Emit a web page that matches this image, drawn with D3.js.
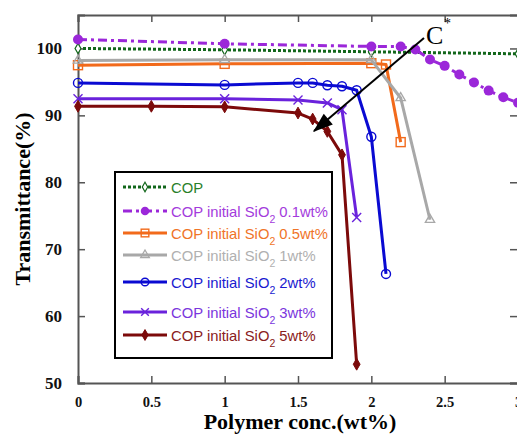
<!DOCTYPE html>
<html><head><meta charset="utf-8">
<script src="https://cdn.jsdelivr.net/npm/d3@7/dist/d3.min.js"></script>
<style>body{margin:0;background:#fff}svg{display:block}</style>
</head><body>
<svg id="c" width="517" height="434"></svg>
<script>
// ---- data ----
const xTicks = [0, 0.5, 1, 1.5, 2, 2.5, 3];
const yTicks = [50, 60, 70, 80, 90, 100];
const seriesNames = ["COP", "COP initial SiO2 0.1wt%", "COP initial SiO2 0.5wt%", "COP initial SiO2 1wt%", "COP initial SiO2 2wt%", "COP initial SiO2 3wt%", "COP initial SiO2 5wt%"];
const copX = [0, 1, 2, 3];
const copY = [100.0, 99.8, 99.5, 99.2];
const s01X = [0, 1, 2, 2.2, 2.3, 2.4, 2.5, 2.6, 2.7, 2.8, 2.9, 3.0];
const s01Y = [101.35, 100.7, 100.3, 100.3, 99.85, 98.35, 97.4, 96.1, 94.9, 93.7, 92.7, 91.9];
const s05X = [0, 1, 2, 2.1, 2.2];
const s05Y = [97.5, 97.7, 97.8, 97.6, 86.0];
const s1X = [0, 1, 2, 2.2, 2.4];
const s1Y = [98.2, 98.3, 98.3, 92.6, 74.4];
const s2X = [0, 1, 1.5, 1.6, 1.7, 1.8, 1.9, 2.0, 2.1];
const s2Y = [94.85, 94.55, 94.85, 94.85, 94.5, 94.35, 93.75, 86.8, 66.3];
const s3X = [0, 1, 1.5, 1.7, 1.8, 1.9];
const s3Y = [92.5, 92.5, 92.3, 91.85, 90.85, 74.75];
const s5X = [0, 0.5, 1, 1.5, 1.6, 1.7, 1.8, 1.9];
const s5Y = [91.35, 91.35, 91.27, 90.35, 89.45, 87.6, 84.1, 52.8];
const annotation = "C";

// ---- layout / style ----
const svg = d3.select("#c");
const L = 78, R = 518, T = 15, B = 383;
const x = d3.scaleLinear().domain([0, 3]).range([L, R]);
const y = d3.scaleLinear().domain([50, 105]).range([B, T]);
const axisCol = "#555";

const styles = [
  {xs: copX, ys: copY, color: "#11661a", text: "#2a7f2a", dash: "3,2", w: 3, marker: "diamondOpen"},
  {xs: s01X, ys: s01Y, color: "#9b27d9", text: "#a33bdc", dash: "9,4,3,4", w: 3, marker: "circleFilled"},
  {xs: s05X, ys: s05Y, color: "#f26a1b", text: "#f07428", dash: null, w: 3, marker: "square"},
  {xs: s1X, ys: s1Y, color: "#a8a8a8", text: "#b0b0b0", dash: null, w: 3, marker: "triangle"},
  {xs: s2X, ys: s2Y, color: "#0a0ad2", text: "#1a1ad0", dash: null, w: 3, marker: "circle"},
  {xs: s3X, ys: s3Y, color: "#6a22dc", text: "#7a36dd", dash: null, w: 3, marker: "cross"},
  {xs: s5X, ys: s5Y, color: "#7c0a0a", text: "#8a2020", dash: null, w: 3, marker: "diamond"}
];

// axes frame
const g = svg.append("g");
g.append("g").attr("transform", `translate(0,${B})`)
  .call(d3.axisBottom(x).tickValues(xTicks).tickSize(-7).tickFormat(d => d3.format("")(d)).tickPadding(14))
  .call(a => { a.select(".domain").attr("stroke", axisCol).attr("stroke-width", 2);
               a.selectAll("line").attr("stroke", axisCol).attr("stroke-width", 1.5);
               a.selectAll("text").attr("font-family", "Liberation Serif, Times New Roman, serif").attr("font-weight", "bold").attr("font-size", 14.5).attr("fill", "#111"); });
g.append("g").attr("transform", `translate(${L},0)`)
  .call(d3.axisLeft(y).tickValues(yTicks).tickSize(-7).tickPadding(16))
  .call(a => { a.select(".domain").attr("stroke", axisCol).attr("stroke-width", 2);
               a.selectAll("line").attr("stroke", axisCol).attr("stroke-width", 1.5);
               a.selectAll("text").attr("font-family", "Liberation Serif, Times New Roman, serif").attr("font-weight", "bold").attr("font-size", 17).attr("fill", "#111"); });
g.append("g").attr("transform", `translate(0,${T})`)
  .call(d3.axisTop(x).tickValues(xTicks).tickSize(-7).tickFormat(""))
  .call(a => { a.select(".domain").attr("stroke", axisCol).attr("stroke-width", 2);
               a.selectAll("line").attr("stroke", axisCol).attr("stroke-width", 1.5); });
g.append("g").attr("transform", `translate(${R},0)`)
  .call(d3.axisRight(y).tickValues(yTicks).tickSize(-8).tickFormat(""))
  .call(a => { a.select(".domain").attr("stroke", axisCol).attr("stroke-width", 2);
               a.selectAll("line").attr("stroke", axisCol).attr("stroke-width", 1.5); });

// axis titles
svg.append("text").attr("x", 300).attr("y", 429).attr("text-anchor", "middle")
  .attr("font-family", "Liberation Serif, Times New Roman, serif").attr("font-weight", "bold").attr("font-size", 22)
  .text("Polymer conc.(wt%)");
svg.append("text").attr("transform", "translate(30,199) rotate(-90)").attr("text-anchor", "middle")
  .attr("font-family", "Liberation Serif, Times New Roman, serif").attr("font-weight", "bold").attr("font-size", 22)
  .text("Transmittance(%)");

function drawMarker(sel, type, color, cx, cy, scale) {
  const s = scale || 1;
  if (type === "diamondOpen") {
    sel.append("path").attr("d", d3.symbol(d3.symbolDiamond, 30 * s)()).attr("transform", `translate(${cx},${cy})`)
      .attr("fill", "#fff").attr("stroke", color).attr("stroke-width", 1.2);
  } else if (type === "diamond") {
    sel.append("path").attr("d", d3.symbol(d3.symbolDiamond, 40 * s)()).attr("transform", `translate(${cx},${cy})`)
      .attr("fill", color).attr("stroke", color).attr("stroke-width", 1);
  } else if (type === "circleFilled") {
    sel.append("circle").attr("cx", cx).attr("cy", cy).attr("r", 5 * s).attr("fill", color);
  } else if (type === "circle") {
    sel.append("circle").attr("cx", cx).attr("cy", cy).attr("r", 4.5 * s).attr("fill", "none").attr("stroke", color).attr("stroke-width", 1.4);
  } else if (type === "square") {
    sel.append("rect").attr("x", cx - 4.5 * s).attr("y", cy - 4.5 * s).attr("width", 9 * s).attr("height", 9 * s)
      .attr("fill", "none").attr("stroke", color).attr("stroke-width", 1.4);
  } else if (type === "triangle") {
    sel.append("path").attr("d", d3.symbol(d3.symbolTriangle, 38 * s)()).attr("transform", `translate(${cx},${cy})`)
      .attr("fill", "none").attr("stroke", color).attr("stroke-width", 1.3);
  } else if (type === "cross") {
    const r = 4.5 * s;
    sel.append("path").attr("d", `M${cx - r},${cy - r}L${cx + r},${cy + r}M${cx - r},${cy + r}L${cx + r},${cy - r}`)
      .attr("stroke", color).attr("stroke-width", 1.4).attr("fill", "none");
  }
}

const plot = svg.append("g");
const line = d3.line().x(d => x(d[0])).y(d => y(d[1]));
styles.forEach(st => {
  const pts = st.xs.map((v, i) => [v, st.ys[i]]);
  plot.append("path").datum(pts).attr("d", line).attr("fill", "none")
    .attr("stroke", st.color).attr("stroke-width", st.w).attr("stroke-dasharray", st.dash)
    .attr("stroke-linejoin", "round");
  const mg = plot.append("g");
  pts.forEach(p => drawMarker(mg, st.marker, st.color, x(p[0]), y(p[1])));
});

// legend
const legendRows = [187, 211, 233, 255, 282, 312, 335];
const lg = svg.append("g");
lg.append("rect").attr("x", 115).attr("y", 172).attr("width", 217).attr("height", 186)
  .attr("fill", "#fff").attr("stroke", "#000").attr("stroke-width", 2);
styles.forEach((st, i) => {
  const yy = legendRows[i];
  lg.append("line").attr("x1", 123).attr("x2", 167).attr("y1", yy).attr("y2", yy)
    .attr("stroke", st.color).attr("stroke-width", st.w).attr("stroke-dasharray", st.dash);
  drawMarker(lg, st.marker, st.color, 145, yy, 0.85);
  const name = seriesNames[i];
  const t = lg.append("text").attr("x", 171).attr("y", yy + 5.5)
    .attr("font-family", "Liberation Sans, Arial, sans-serif").attr("font-size", 14.8).attr("fill", st.text);
  const k = name.indexOf("SiO2");
  if (k < 0) { t.text(name); }
  else {
    t.append("tspan").text(name.slice(0, k + 3));
    t.append("tspan").attr("font-size", 10.5).attr("dy", 6).text("2");
    t.append("tspan").attr("dy", -6).text(name.slice(k + 4));
  }
});

// annotation arrow
svg.append("line").attr("x1", 424).attr("y1", 38).attr("x2", 314).attr("y2", 131)
  .attr("stroke", "#000").attr("stroke-width", 2);
svg.append("path").attr("d", "M0,0L-20,-7L-20,7Z").attr("fill", "#000")
  .attr("transform", `translate(313,132) rotate(${Math.atan2(131 - 38, 314 - 424) * 180 / Math.PI})`);
svg.append("text").attr("x", 426).attr("y", 44).attr("font-family", "Liberation Serif, Times New Roman, serif")
  .attr("font-size", 26).attr("fill", "#000").text(annotation);
svg.append("text").attr("x", 444).attr("y", 28).attr("font-family", "Liberation Serif, Times New Roman, serif")
  .attr("font-size", 14).attr("fill", "#000").text("*");
</script>
</body></html>
